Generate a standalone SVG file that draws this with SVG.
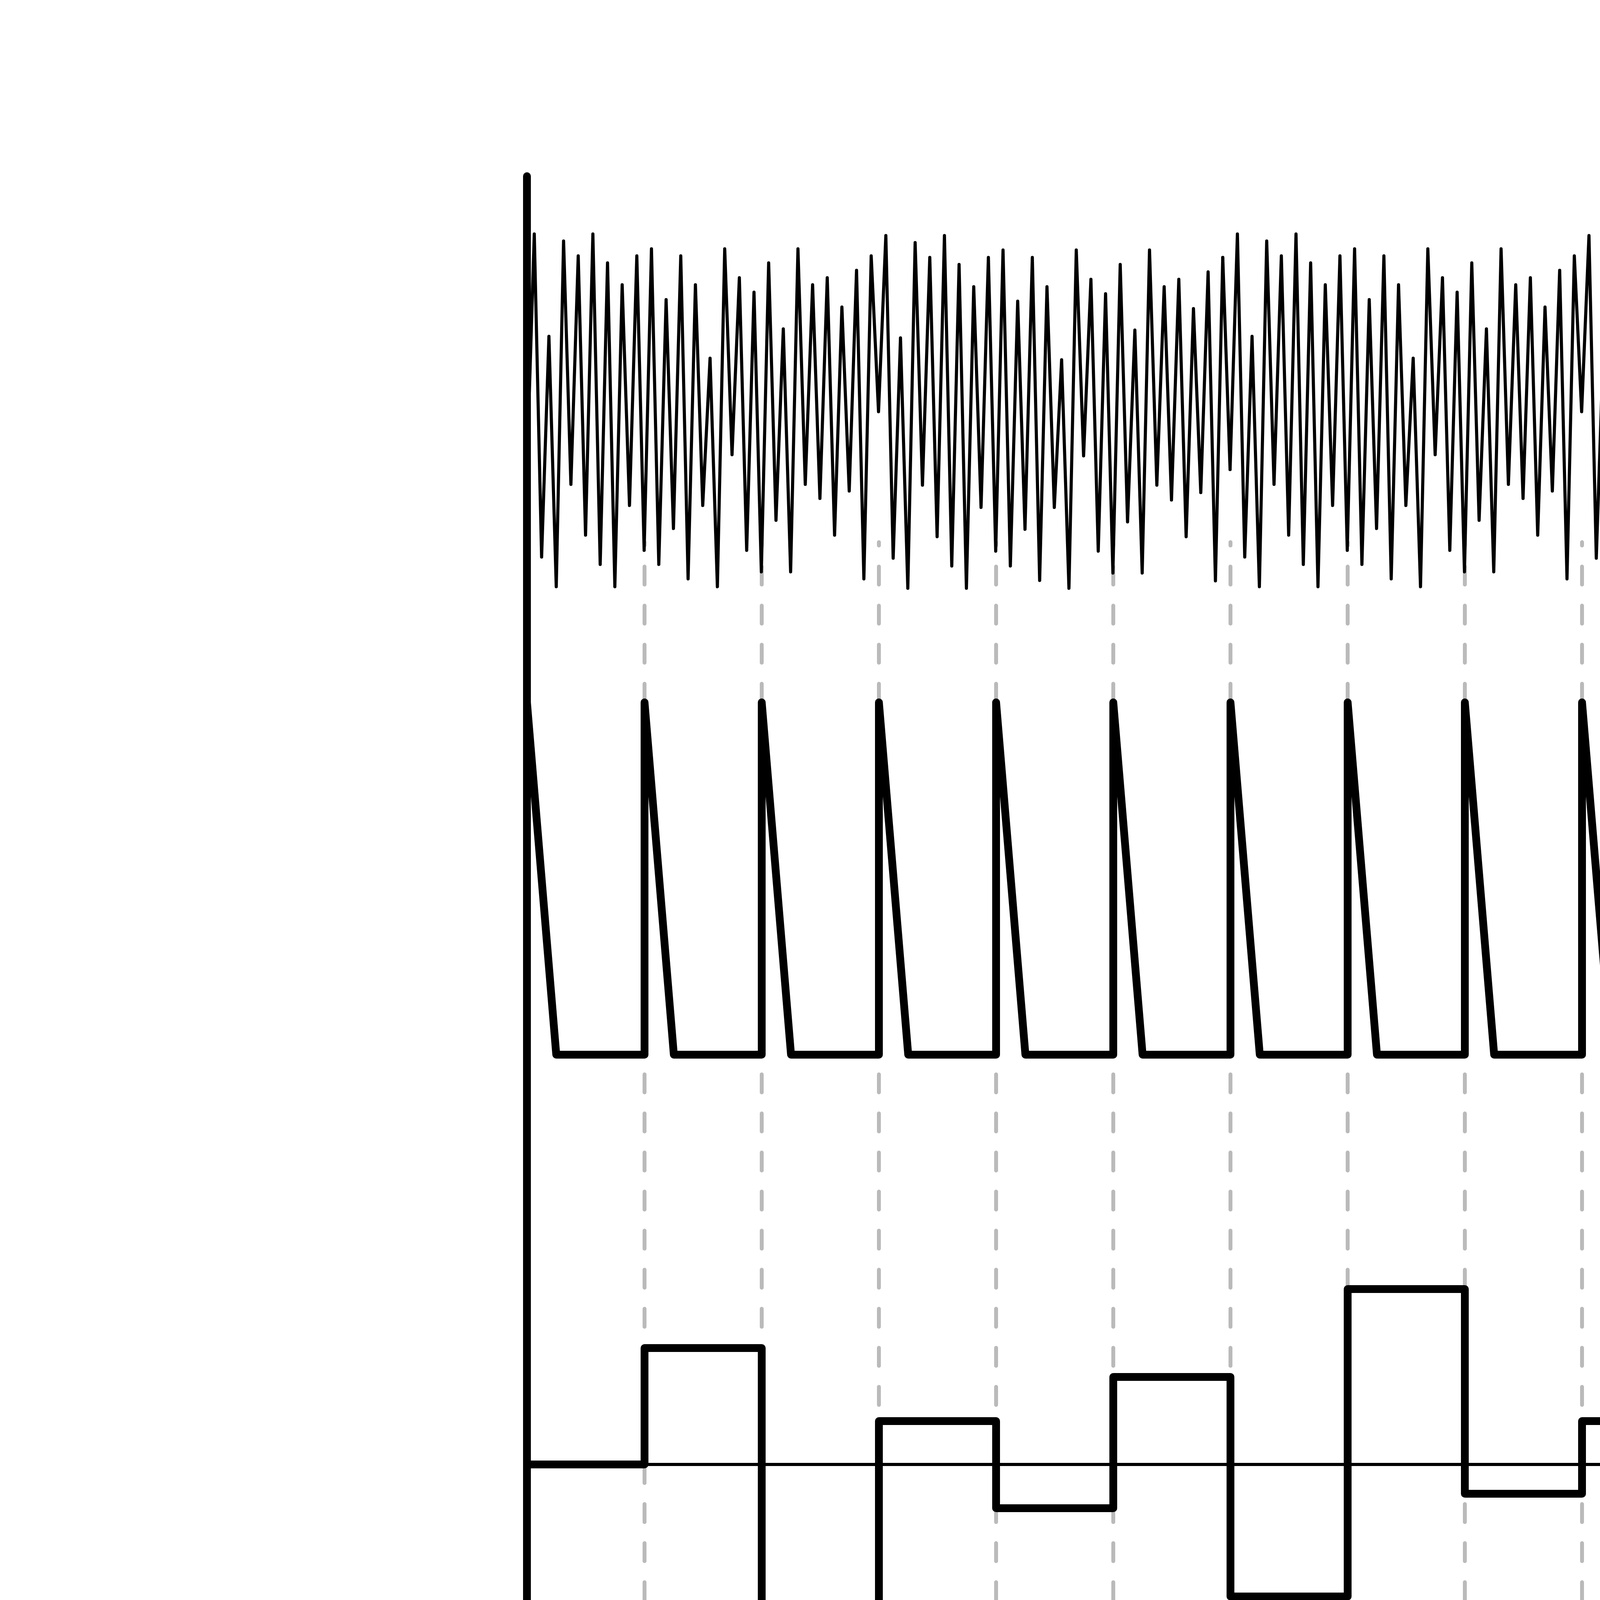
<svg xmlns="http://www.w3.org/2000/svg" xmlns:xlink="http://www.w3.org/1999/xlink" width="8000" height="4500" viewBox="0 0 8000 4500">
  <style>
    .guide { stroke: #bababa; stroke-width: 10; stroke-dasharray: 46 54; stroke-dashoffset: 37.5; stroke-linecap: round; fill: none; }
    .noise { stroke: #000; stroke-width: 8; fill: none; stroke-linejoin: round; stroke-linecap: round; }
    .thick { stroke: #000; stroke-width: 20; fill: none; stroke-linejoin: round; stroke-linecap: round; }
    .thin { stroke: #000; stroke-width: 8; fill: none; }
    .label { font-family: Lato, "Open Sans", "Liberation Sans", sans-serif; font-weight: bold; font-size: 176px; fill: #000; }
  </style>
  <defs>
    <polyline id="noise-motif" class="noise" points="1349,1202 1367.75,599 1386.5,1426 1405.25,861 1424,1502 1442.75,617 1461.5,1240 1480.25,655 1499,1370 1517.75,599 1536.5,1445 1555.25,673 1574,1502 1592.75,729 1611.5,1294 1630.25,655 1649,1409 1667.75,637 1686.5,1445 1705.25,767 1724,1353 1742.75,655 1761.5,1482 1780.25,729 1799,1294 1817.75,917 1836.5,1502 1855.25,637 1874,1164 1892.75,711 1911.5,1409 1930.25,748 1949,1464 1967.75,673 1986.5,1332 2005.25,842 2024,1464 2042.75,637 2061.5,1240 2080.25,729 2099,1276 2117.75,711 2136.5,1370 2155.25,786 2174,1257 2192.75,692 2211.5,1482 2230.25,655 2249,1054 2267.75,603 2286.5,1429 2305.25,865 2324,1506 2342.75,621 2361.5,1242 2380.25,659 2399,1374 2417.75,603 2436.5,1449 2455.25,677 2474,1506 2492.75,734 2511.5,1299 2530.25,659 2549,1411 2567.75,640 2586.5,1449 2605.25,771 2624,1355 2642.75,659 2661.5,1486 2680.25,734 2699,1299 2717.75,921 2736.5,1506 2755.25,640 2774,1167 2792.75,715 2811.5,1411 2830.25,752 2849,1467 2867.75,677 2886.5,1336 2905.25,845 2924,1467 2942.75,640 2961.5,1242 2980.25,734 2999,1280 3017.75,715 3036.5,1374 3055.25,790 3074,1261 3092.75,696 3111.5,1487 3130.25,659"/>
  </defs>
  <rect width="8000" height="4500" fill="#fff"/>

  <g id="connectors">
    <line class="guide" x1="1650" y1="1388" x2="1650" y2="4198"/>
    <line class="guide" x1="1950" y1="1388" x2="1950" y2="4198"/>
    <line class="guide" x1="2250" y1="1388" x2="2250" y2="4198"/>
    <line class="guide" x1="2550" y1="1388" x2="2550" y2="4198"/>
    <line class="guide" x1="2850" y1="1388" x2="2850" y2="4198"/>
    <line class="guide" x1="3150" y1="1388" x2="3150" y2="4198"/>
    <line class="guide" x1="3450" y1="1388" x2="3450" y2="4198"/>
    <line class="guide" x1="3750" y1="1388" x2="3750" y2="4198"/>
    <line class="guide" x1="4050" y1="1388" x2="4050" y2="4198"/>
    <line class="guide" x1="4350" y1="1388" x2="4350" y2="4198"/>
    <line class="guide" x1="4650" y1="1388" x2="4650" y2="4198"/>
  </g>

  <g id="rauschsignal">
    <use xlink:href="#noise-motif"/>
    <use xlink:href="#noise-motif" transform="translate(1800 0)"/>
    <line class="noise" x1="3130.25" y1="659" x2="3149" y2="1202"/>
    <line class="noise" x1="4930.25" y1="659" x2="4949" y2="1163"/>
    <text class="label" x="5512" y="988" textLength="1068" lengthAdjust="spacingAndGlyphs">Rauschsignal</text>
  </g>

  <g id="clock-signal">
    <path class="thick" d="M1349,1798 L1424,2700 H1650 V1798 L1725,2700 H1950 V1798 L2025,2700 H2250 V1798 L2325,2700 H2550 V1798 L2625,2700 H2850 V1798 L2925,2700 H3150 V1798 L3225,2700 H3450 V1798 L3525,2700 H3750 V1798 L3825,2700 H4050 V1798 L4125,2700 H4350 V1798 L4425,2700 H4650 V1798 L4725,2700 H4945"/>
    <text class="label" x="5512" y="2188" textLength="1165" lengthAdjust="spacingAndGlyphs">Taktfrequenz/</text>
    <text class="label" x="5512" y="2428" textLength="991" lengthAdjust="spacingAndGlyphs">Clock-Signal</text>
  </g>

  <g id="ausgangssignal">
    <line class="thin" x1="1349" y1="3749" x2="5398" y2="3749"/>
    <path class="thick" d="M1349,3749 H1650 V3451 H1950 V4125 H2250 V3638 H2550 V3861 H2850 V3525 H3150 V4087 H3450 V3300 H3750 V3824 H4050 V3638 H4350 V4125 H4650 V3450 H4942"/>
    <text class="label" x="5516" y="3798" textLength="1255" lengthAdjust="spacingAndGlyphs">Ausgangssignal</text>
  </g>

  <g id="axis">
    <line class="thick" x1="1349" y1="451" x2="1349" y2="4194"/>
  </g>
</svg>
